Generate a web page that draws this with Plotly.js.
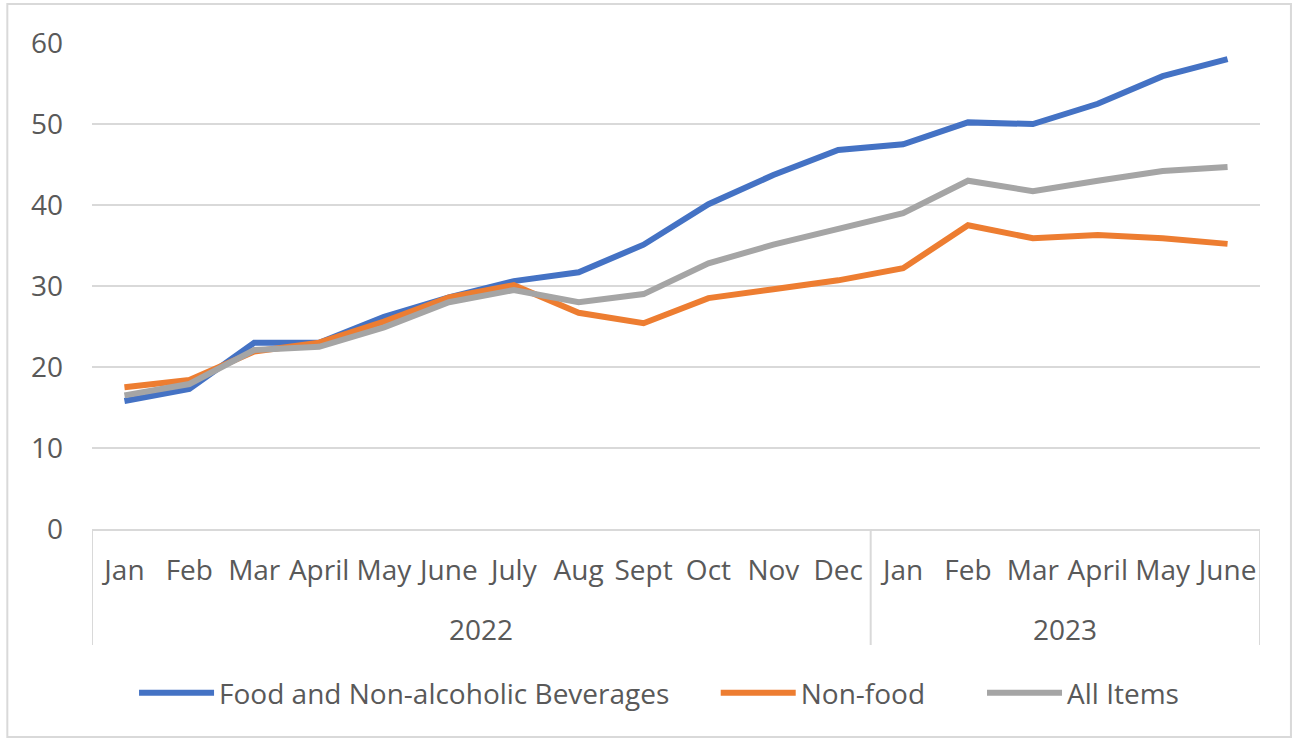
<!DOCTYPE html>
<html>
<head>
<meta charset="utf-8">
<script src="https://cdn.plot.ly/plotly-3.0.1.min.js"></script>
<style>html,body{margin:0;padding:0;background:#fff;}#chart{width:1299px;height:742px;}</style>
</head>
<body>
<div id="chart"></div>
<script>
const months = ["Jan","Feb","Mar","April","May","June","July","Aug","Sept","Oct","Nov","Dec","Jan","Feb","Mar","April","May","June"];
const years = ["2022","2022","2022","2022","2022","2022","2022","2022","2022","2022","2022","2022","2023","2023","2023","2023","2023","2023"];
const food = [15.8,17.3,23.0,23.0,26.2,28.6,30.6,31.7,35.1,40.1,43.7,46.8,47.5,50.2,50.0,52.5,55.9,58.0];
const nonFood = [17.5,18.4,21.9,23.0,25.6,28.6,30.1,26.7,25.4,28.5,29.6,30.7,32.2,37.5,35.9,36.3,35.9,35.2];
const allItems = [16.5,17.9,22.1,22.5,24.9,28.0,29.5,28.0,29.0,32.8,35.1,37.0,39.0,43.0,41.7,43.0,44.2,44.7];
const seriesNames = ["Food and Non-alcoholic Beverages","Non-food","All Items"];
const colors = ["#4472C4","#ED7D31","#A5A5A5"];

const idx = months.map((_, i) => i);
const FONT = "Open Sans, Noto Sans, sans-serif";
const TXT = "#595959";
const FS = 28;
const legendIds = ["legend","legend2","legend3"];

const traces = [food, nonFood, allItems].map((vals, k) => ({
  type: "scatter", mode: "lines", x: idx, y: vals, name: seriesNames[k],
  line: {color: colors[k], width: 6, shape: "linear"},
  legend: legendIds[k],
  hoverinfo: "y+name"
}));

// year groups
const groups = [];
years.forEach((y, i) => {
  if (!groups.length || groups[groups.length-1].year !== y) groups.push({year: y, start: i, end: i});
  else groups[groups.length-1].end = i;
});

const annotations = groups.map(g => ({
  xref: "x", yref: "paper", x: (g.start + g.end) / 2, y: -0.2058,
  text: g.year, showarrow: false, yanchor: "middle", xanchor: "center",
  font: {family: FONT, size: FS, color: TXT}
}));

const shapes = [];
const bounds = [groups[0].start - 0.5].concat(groups.map(g => g.end + 0.5));
bounds.forEach(b => shapes.push({
  type: "line", xref: "x", yref: "paper", x0: b, x1: b, y0: 0, y1: -0.2387,
  line: {color: "#d9d9d9", width: 2}
}));
shapes.push({
  type: "rect", xref: "paper", yref: "paper", x0: -0.0725, x1: 1.0265, y0: -0.428, y1: 1.08,
  line: {color: "#d9d9d9", width: 2}, fillcolor: "rgba(0,0,0,0)", layer: "below"
});

function leg(x) {
  return {
    orientation: "h", x: x, xanchor: "left", y: -0.3374, yanchor: "middle",
    font: {family: FONT, size: FS, color: TXT}, itemwidth: 75, bgcolor: "rgba(0,0,0,0)"
  };
}

const layout = {
  width: 1299, height: 742,
  margin: {l: 92, r: 39, t: 43, b: 213},
  paper_bgcolor: "#fff", plot_bgcolor: "#fff",
  font: {family: FONT, size: FS, color: TXT},
  showlegend: true,
  legend: leg(0.036),
  legend2: leg(0.534),
  legend3: leg(0.762),
  xaxis: {
    range: [-0.5, months.length - 0.5], tickmode: "array", tickvals: idx, ticktext: months,
    showgrid: false, zeroline: false, showline: true, linecolor: "#d9d9d9", linewidth: 2,
    ticks: "", ticklabelstandoff: 15, tickfont: {family: FONT, size: FS, color: TXT},
    fixedrange: true
  },
  yaxis: {
    range: [0, 60], dtick: 10, tick0: 0, showgrid: true, gridcolor: "#d9d9d9", gridwidth: 2,
    zeroline: false, showline: false, ticks: "", ticklabelstandoff: 28,
    tickfont: {family: FONT, size: FS, color: TXT}, fixedrange: true
  },
  annotations: annotations,
  shapes: shapes
};

Plotly.newPlot("chart", traces, layout, {displayModeBar: false, staticPlot: true});
</script>
</body>
</html>
